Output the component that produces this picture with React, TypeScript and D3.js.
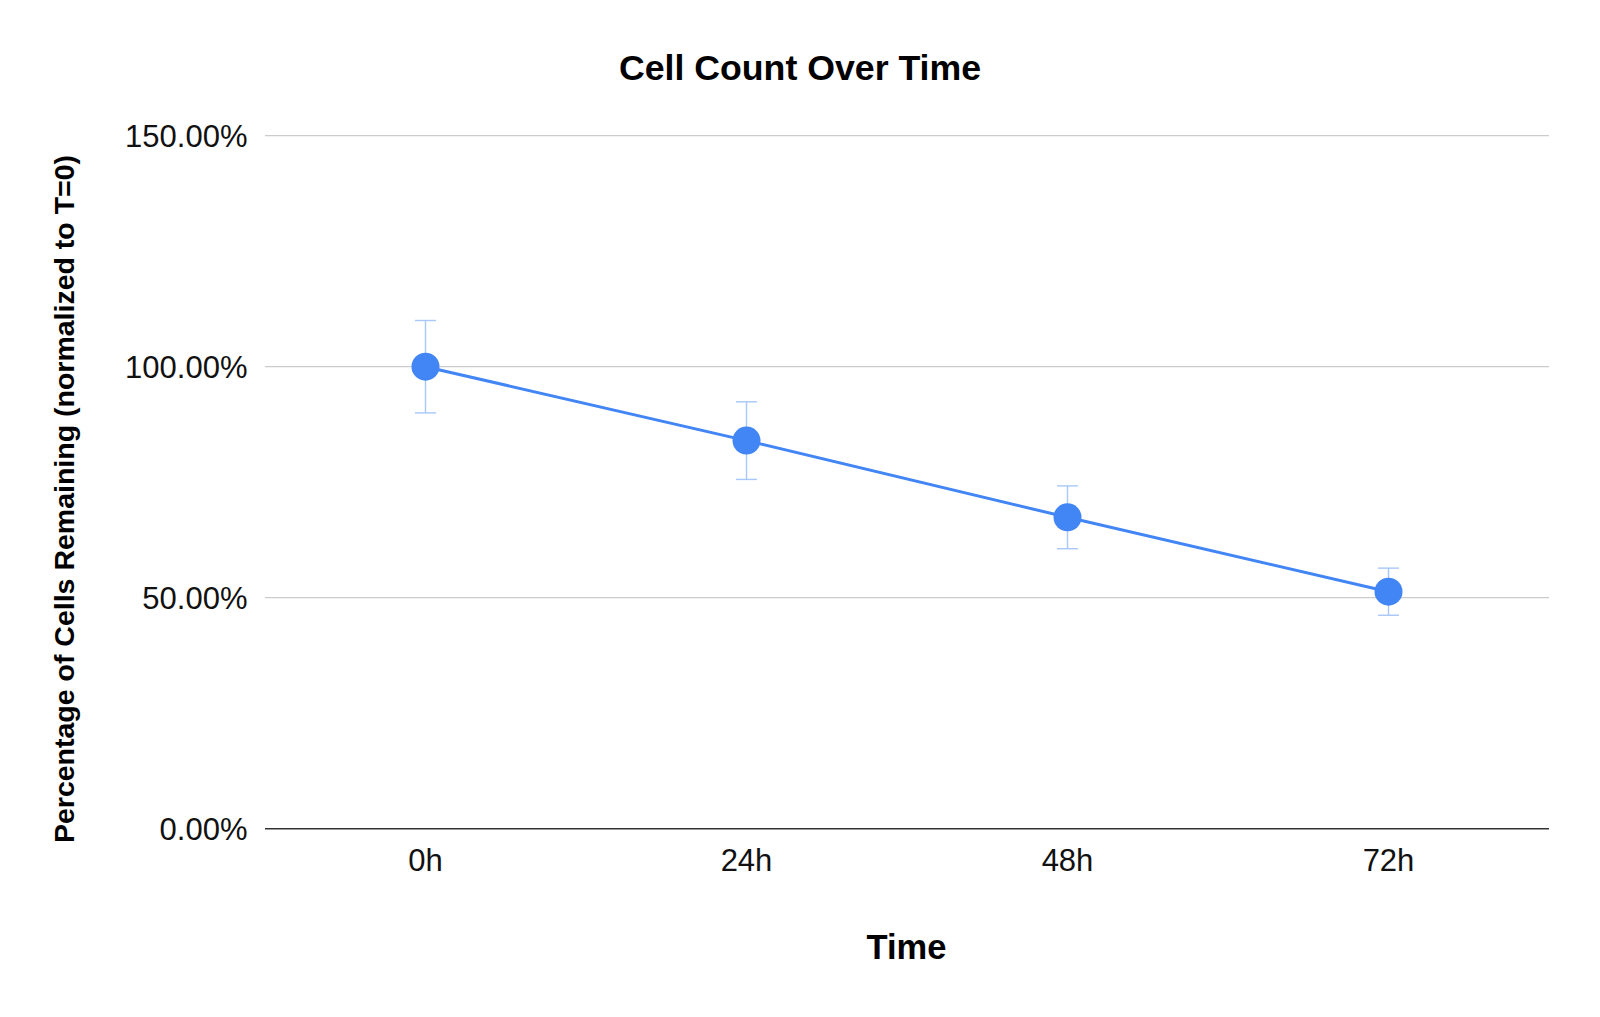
import React from "react";
import * as d3 from "d3";

const categories = ["0h", "24h", "48h", "72h"];
const values = [100, 84, 67.4, 51.3];
const errors = [10, 8.4, 6.8, 5.1];
const yTicks = [0, 50, 100, 150];

const W = 1600;
const H = 1017;
const M = { left: 265, right: 1549, top: 135.7, bottom: 828.7 };
const FONT = "'Liberation Sans', Arial, Helvetica, sans-serif";

export default function App() {
  const x = d3.scalePoint<string>().domain(categories).range([M.left, M.right]).padding(0.5);
  const y = d3.scaleLinear().domain([0, 150]).range([M.bottom, M.top]);
  const line = d3
    .line<number>()
    .x((_, i) => x(categories[i]) as number)
    .y((d) => y(d));
  const fmt = (v: number) => v.toFixed(2) + "%";

  return (
    <svg width={W} height={H} style={{ position: "absolute", left: 0, top: 0, background: "#fff" }} fontFamily={FONT}>
      <rect x={0} y={0} width={W} height={H} fill="#fff" />
      <text x={800} y={79.5} textAnchor="middle" fontSize={35.7} fontWeight="bold" fill="#000">
        Cell Count Over Time
      </text>
      {yTicks.map((t) => (
        <g key={t}>
          {t !== 0 && <line x1={M.left} x2={M.right} y1={y(t)} y2={y(t)} stroke="#cccccc" strokeWidth={1.2} />}
          <text x={247.5} y={y(t) + 11} textAnchor="end" fontSize={31} fill="#111">
            {fmt(t)}
          </text>
        </g>
      ))}
      <line x1={M.left} x2={M.right} y1={y(0)} y2={y(0)} stroke="#333" strokeWidth={1.6} />
      {categories.map((c) => (
        <text key={c} x={x(c) as number} y={870.5} textAnchor="middle" fontSize={31} fill="#111">
          {c}
        </text>
      ))}
      <text x={906.5} y={958.5} textAnchor="middle" fontSize={34.5} fontWeight="bold" fill="#000">
        Time
      </text>
      <text
        transform={`translate(74,499) rotate(-90)`}
        textAnchor="middle"
        fontSize={28.5}
        fontWeight="bold"
        fill="#000"
      >
        Percentage of Cells Remaining (normalized to T=0)
      </text>
      {values.map((v, i) => {
        const cx = x(categories[i]) as number;
        const top = y(v + errors[i]);
        const bot = y(v - errors[i]);
        return (
          <g key={i} stroke="#a8c7fa" strokeWidth={1.4}>
            <line x1={cx} x2={cx} y1={top} y2={bot} />
            <line x1={cx - 10.5} x2={cx + 10.5} y1={top} y2={top} />
            <line x1={cx - 10.5} x2={cx + 10.5} y1={bot} y2={bot} />
          </g>
        );
      })}
      <path d={line(values) || ""} fill="none" stroke="#4285f4" strokeWidth={3} />
      {values.map((v, i) => (
        <circle key={i} cx={x(categories[i]) as number} cy={y(v)} r={14} fill="#4285f4" />
      ))}
    </svg>
  );
}
